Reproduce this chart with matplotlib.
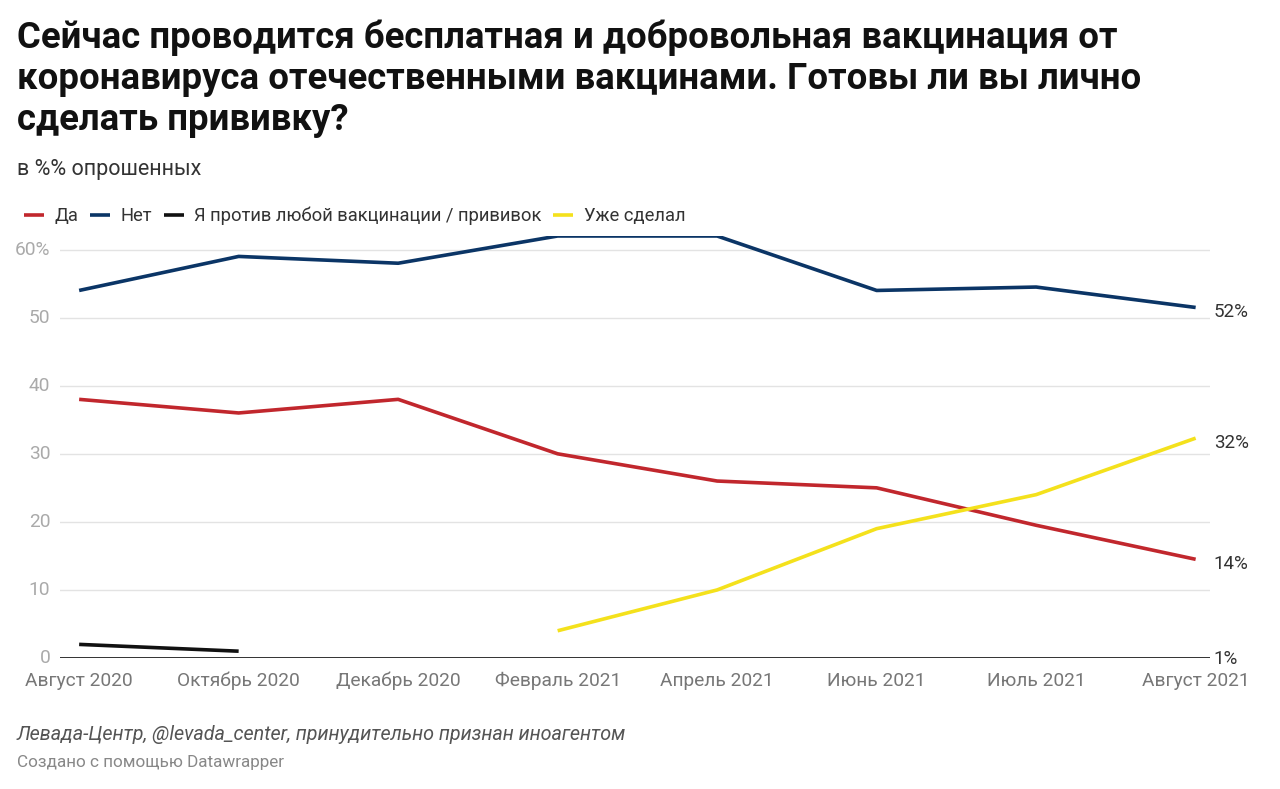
import numpy as np
import matplotlib
matplotlib.use("Agg")
import matplotlib.pyplot as plt

plt.rcParams['font.family'] = ['Roboto', 'DejaVu Sans']

months = ["Август 2020", "Октябрь 2020", "Декабрь 2020", "Февраль 2021",
          "Апрель 2021", "Июнь 2021", "Июль 2021", "Август 2021"]
da = [38, 36, 38, 30, 26, 25, 19.5, 14.5]
net = [54, 59, 58, 62, 62, 54, 54.5, 51.5]
protiv = [2, 1, np.nan, np.nan, np.nan, np.nan, np.nan, 0.5]
uzhe = [np.nan, np.nan, np.nan, 4, 10, 19, 24, 32.3]

series = [
    ("Да", da, "#c1272d", "14%"),
    ("Нет", net, "#0b3566", "52%"),
    ("Я против любой вакцинации / прививок", protiv, "#111111", "1%"),
    ("Уже сделал", uzhe, "#f4e11c", "32%"),
]
yticks = [0, 10, 20, 30, 40, 50, 60]
ytick_labels = ["0", "10", "20", "30", "40", "50", "60%"]

fig = plt.figure(figsize=(12.8, 7.89), dpi=100)
# axes: x 60..1210 px, y 0 at 658px, 60 at 250px
ax = fig.add_axes([60 / 1280, 1 - 658 / 789, 1150 / 1280, (658 - 236) / 789])

x = np.arange(len(months))
for name, vals, col, lab in series:
    ax.plot(x, vals, color=col, lw=2.6, solid_capstyle='butt', label=name, zorder=3)
    ax.annotate(lab, (x[-1], vals[-1]), xytext=(13, -3.5), textcoords='offset points',
                fontsize=13.5, color="#333333", va='center', ha='left')

ax.set_xlim(-0.12, len(months) - 1 + 0.09)
ax.set_ylim(0, 62)
ax.set_yticks(yticks)
ax.set_yticklabels(ytick_labels)
ax.set_xticks(x)
ax.set_xticklabels(months)
for t in ax.get_yticks():
    if t > 0:
        ax.axhline(t, color="#e3e3e3", lw=1, zorder=1)
ax.axhline(0, color="#222222", lw=1.3, zorder=2)
for s in ax.spines.values():
    s.set_visible(False)
ax.tick_params(axis='both', length=0, labelsize=13.8, colors="#888888")
ax.tick_params(axis='x', pad=10, labelcolor="#777777")
ax.tick_params(axis='y', pad=7, labelcolor="#aaaaaa")
for lbl in ax.get_yticklabels():
    lbl.set_verticalalignment('center')

leg = ax.legend(loc='lower left', bbox_to_anchor=(-47 / 1150, 1.0), ncol=4, frameon=False,
                handlelength=1.1, handletextpad=0.55, columnspacing=0.65, fontsize=13.2,
                borderaxespad=0.2)
for t in leg.get_texts():
    t.set_color("#333333")

fig.text(17 / 1280, 1 - 20 / 789,
         "Сейчас проводится бесплатная и добровольная вакцинация от\n"
         "коронавируса отечественными вакцинами. Готовы ли вы лично\n"
         "сделать прививку?",
         fontsize=26.3, fontweight='bold', color="#111111", va='top', ha='left',
         linespacing=1.17)
fig.text(17 / 1280, 1 - 169 / 789, "в %% опрошенных", fontsize=15.5, color="#333333",
         va='center', ha='left')
fig.text(17 / 1280, 1 - 734 / 789,
         "Левада-Центр, @levada_center, принудительно признан иноагентом",
         fontsize=14.2, style='italic', color="#555555", va='center', ha='left')
fig.text(17 / 1280, 1 - 762 / 789, "Создано с помощью Datawrapper",
         fontsize=12.3, color="#888888", va='center', ha='left')

fig.savefig("out.png", dpi=100, facecolor='white')
